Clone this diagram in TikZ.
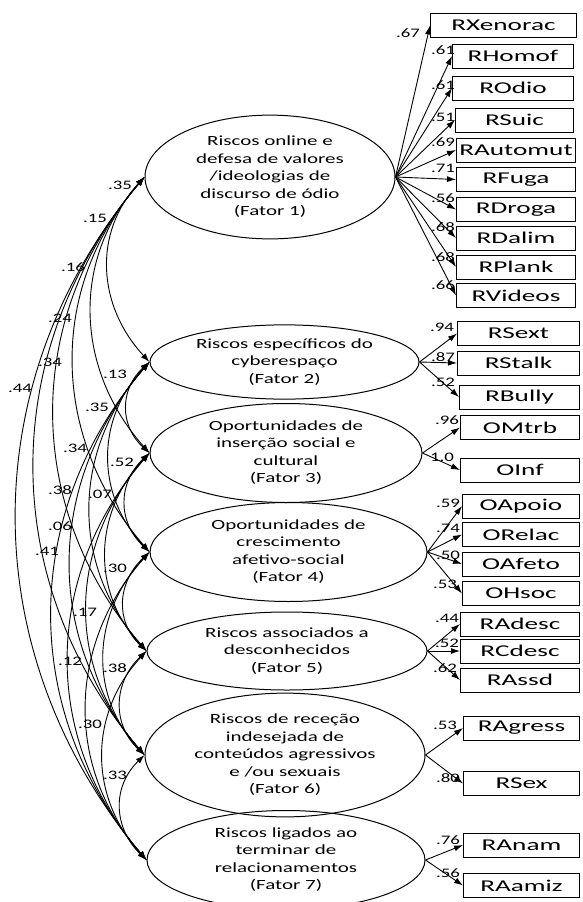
\documentclass[tikz,border=0pt]{standalone}
\usepackage{fontspec}
\setmainfont{Carlito}
\usetikzlibrary{arrows.meta,shapes.geometric}
\newcommand{\bxt}[1]{\scalebox{1.65}[1]{#1}}
\newcommand{\ftxt}[1]{\scalebox{1.5}[1]{\fontsize{14}{17.5}\selectfont\begin{tabular}{@{}c@{}}#1\end{tabular}}}
\newcommand{\lbt}[1]{\scalebox{1.45}[1]{#1}}
\begin{document}
\begin{tikzpicture}[x=1pt,y=-1pt,
  fac/.style={draw, ellipse, line width=1pt, inner sep=0pt},
  obs/.style={draw, rectangle, line width=1pt, inner sep=0pt, anchor=west, minimum height=24pt, font=\fontsize{16.5}{18}\selectfont},
  lab/.style={inner sep=0pt, font=\fontsize{13}{14}\selectfont},
  load/.style={line width=0.9pt, -{Latex[length=9pt,width=6pt]}},
  cov/.style={line width=0.9pt, {Latex[length=9pt,width=6pt]}-{Latex[length=9pt,width=6pt]}}]
\useasboundingbox (0,0) rectangle (582,902);

% factors
\node[fac, minimum width=250pt, minimum height=117pt] (F1) at (270,177) {\ftxt{Riscos online e\\defesa de valores\\/ideologias de\\discurso de ódio\\(Fator 1)}};
\node[fac, minimum width=269pt, minimum height=69pt] (F2) at (284.5,362) {\ftxt{Riscos específicos do\\cyberespaço\\(Fator 2)}};
\node[fac, minimum width=272pt, minimum height=77pt] (F3) at (286,453) {\ftxt{Oportunidades de\\inserção social e\\cultural\\(Fator 3)}};
\node[fac, minimum width=277pt, minimum height=89pt] (F4) at (288.5,552) {\ftxt{Oportunidades de\\crescimento\\afetivo-social\\(Fator 4)}};
\node[fac, minimum width=280pt, minimum height=78pt] (F5) at (287,651) {\ftxt{Riscos associados a\\desconhecidos\\(Fator 5)}};
\node[fac, minimum width=280pt, minimum height=112pt] (F6) at (285,755) {\ftxt{Riscos de receção\\indesejada de\\conteúdos agressivos\\e /ou sexuais\\(Fator 6)}};
\node[fac, minimum width=278pt, minimum height=84pt] (F7) at (286,860) {\ftxt{Riscos ligados ao\\terminar de\\relacionamentos\\(Fator 7)}};

% observed
\node[obs, minimum width=146pt] (RXenorac) at (430,25.5) {\bxt{RXenorac}};
\node[obs, minimum width=121pt] (RHomof) at (452,56) {\bxt{RHomof}};
\node[obs, minimum width=121pt] (ROdio) at (452,88) {\bxt{ROdio}};
\node[obs, minimum width=118pt] (RSuic) at (455,120) {\bxt{RSuic}};
\node[obs, minimum width=119pt] (RAutomut) at (456,150) {\bxt{RAutomut}};
\node[obs, minimum width=119pt] (RFuga) at (456,179.5) {\bxt{RFuga}};
\node[obs, minimum width=119pt] (RDroga) at (456,209.5) {\bxt{RDroga}};
\node[obs, minimum width=119pt] (RDalim) at (456,238) {\bxt{RDalim}};
\node[obs, minimum width=119pt] (RPlank) at (456,267) {\bxt{RPlank}};
\node[obs, minimum width=119pt] (RVideos) at (456,295.5) {\bxt{RVideos}};
\node[obs, minimum width=122pt] (RSext) at (457,333.5) {\bxt{RSext}};
\node[obs, minimum width=122pt] (RStalk) at (457,363) {\bxt{RStalk}};
\node[obs, minimum width=120pt] (RBully) at (459,397) {\bxt{RBully}};
\node[obs, minimum width=119pt] (OMtrb) at (460,427.5) {\bxt{OMtrb}};
\node[obs, minimum width=119pt] (OInf) at (460,470) {\bxt{OInf}};
\node[obs, minimum width=117pt] (OApoio) at (462,506) {\bxt{OApoio}};
\node[obs, minimum width=117pt] (ORelac) at (462,534.5) {\bxt{ORelac}};
\node[obs, minimum width=117pt] (OAfeto) at (462,564) {\bxt{OAfeto}};
\node[obs, minimum width=117pt] (OHsoc) at (462,593.5) {\bxt{OHsoc}};
\node[obs, minimum width=119pt] (RAdesc) at (460,624) {\bxt{RAdesc}};
\node[obs, minimum width=119pt] (RCdesc) at (460,651) {\bxt{RCdesc}};
\node[obs, minimum width=119pt] (RAssd) at (460,680) {\bxt{RAssd}};
\node[obs, minimum width=116pt] (RAgress) at (463,728) {\bxt{RAgress}};
\node[obs, minimum width=116pt] (RSex) at (463,783.5) {\bxt{RSex}};
\node[obs, minimum width=116pt] (RAnam) at (463,845) {\bxt{RAnam}};
\node[obs, minimum width=116pt] (RAamiz) at (463,885.5) {\bxt{RAamiz}};

% loadings
\foreach \t in {RXenorac,RHomof,ROdio,RSuic,RAutomut,RFuga,RDroga,RDalim,RPlank,RVideos}
  \draw[load] (F1.east) -- (\t.west);
\foreach \t in {RSext,RStalk,RBully} \draw[load] (F2.east) -- (\t.west);
\foreach \t in {OMtrb,OInf} \draw[load] (F3.east) -- (\t.west);
\foreach \t in {OApoio,ORelac,OAfeto,OHsoc} \draw[load] (F4.east) -- (\t.west);
\foreach \t in {RAdesc,RCdesc,RAssd} \draw[load] (F5.east) -- (\t.west);
\foreach \t in {RAgress,RSex} \draw[load] (F6.east) -- (\t.west);
\foreach \t in {RAnam,RAamiz} \draw[load] (F7.east) -- (\t.west);

% loading labels
\node[lab] (a1) at (408,33) {\lbt{.67}};
\node[lab] (a2) at (443,50) {\lbt{.61}};
\node[lab] (a3) at (443,85) {\lbt{.61}};
\node[lab] (a4) at (443,117) {\lbt{.51}};
\node[lab] (a5) at (443,142) {\lbt{.69}};
\node[lab] (a6) at (443,168) {\lbt{.71}};
\node[lab] (a7) at (443,198) {\lbt{.56}};
\node[lab] (a8) at (443,227) {\lbt{.68}};
\node[lab] (a9) at (443,257) {\lbt{.68}};
\node[lab] (a10) at (443,285) {\lbt{.66}};
\node[lab] (a11) at (442,327) {\lbt{.94}};
\node[lab] (a12) at (443,357) {\lbt{.87}};
\node[lab] (a13) at (443,382) {\lbt{.52}};
\node[lab] (a14) at (447,420) {\lbt{.96}};
\node[lab] (a15) at (442,457) {\lbt{1.0}};
\node[lab] (a16) at (448,503) {\lbt{.59}};
\node[lab] (a17) at (448,528) {\lbt{.74}};
\node[lab] (a18) at (448,555) {\lbt{.50}};
\node[lab] (a19) at (445,584) {\lbt{.53}};
\node[lab] (a20) at (447,618) {\lbt{.44}};
\node[lab] (a21) at (447,643) {\lbt{.52}};
\node[lab] (a22) at (445,668) {\lbt{.62}};
\node[lab] (a23) at (445,725) {\lbt{.53}};
\node[lab] (a24) at (448,778) {\lbt{.80}};
\node[lab] (a25) at (448,840) {\lbt{.76}};
\node[lab] (a26) at (448,873) {\lbt{.56}};

% covariances
\draw[cov] (F1.west) .. controls +(-52,56) and +(-52,-56) .. (F2.west);
\draw[cov] (F1.west) .. controls +(-74,83) and +(-74,-83) .. (F3.west);
\draw[cov] (F1.west) .. controls +(-98,113) and +(-98,-113) .. (F4.west);
\draw[cov] (F1.west) .. controls +(-122,142) and +(-122,-142) .. (F5.west);
\draw[cov] (F1.west) .. controls +(-147,173) and +(-147,-173) .. (F6.west);
\draw[cov] (F1.west) .. controls +(-172,205) and +(-172,-205) .. (F7.west);
\draw[cov] (F2.west) .. controls +(-30,27) and +(-30,-27) .. (F3.west);
\draw[cov] (F2.west) .. controls +(-54,57) and +(-54,-57) .. (F4.west);
\draw[cov] (F2.west) .. controls +(-77,87) and +(-77,-87) .. (F5.west);
\draw[cov] (F2.west) .. controls +(-102,118) and +(-102,-118) .. (F6.west);
\draw[cov] (F2.west) .. controls +(-128,149) and +(-128,-149) .. (F7.west);
\draw[cov] (F3.west) .. controls +(-32,30) and +(-32,-30) .. (F4.west);
\draw[cov] (F3.west) .. controls +(-56,59) and +(-56,-59) .. (F5.west);
\draw[cov] (F3.west) .. controls +(-80,91) and +(-80,-91) .. (F6.west);
\draw[cov] (F3.west) .. controls +(-106,122) and +(-106,-122) .. (F7.west);
\draw[cov] (F4.west) .. controls +(-32,30) and +(-32,-30) .. (F5.west);
\draw[cov] (F4.west) .. controls +(-57,61) and +(-57,-61) .. (F6.west);
\draw[cov] (F4.west) .. controls +(-82,92) and +(-82,-92) .. (F7.west);
\draw[cov] (F5.west) .. controls +(-33,31) and +(-33,-31) .. (F6.west);
\draw[cov] (F5.west) .. controls +(-58,63) and +(-58,-63) .. (F7.west);
\draw[cov] (F6.west) .. controls +(-33,32) and +(-33,-32) .. (F7.west);

% covariance labels
\node[lab] (c1) at (120,185) {\lbt{.35}};
\node[lab] (c2) at (95,218) {\lbt{.15}};
\node[lab] (c3) at (73,267) {\lbt{.16}};
\node[lab] (c4) at (60,318) {\lbt{.24}};
\node[lab] (c5) at (50,362) {\lbt{.34}};
\node[lab] (c6) at (20,388) {\lbt{.44}};
\node[lab] (c7) at (115,374) {\lbt{.13}};
\node[lab] (c8) at (97,407) {\lbt{.35}};
\node[lab] (c9) at (75,448) {\lbt{.34}};
\node[lab] (c10) at (122,462) {\lbt{.52}};
\node[lab] (c11) at (60,490) {\lbt{.38}};
\node[lab] (c12) at (100,494) {\lbt{.07}};
\node[lab] (c13) at (60,526) {\lbt{.06}};
\node[lab] (c14) at (47,551) {\lbt{.41}};
\node[lab] (c15) at (115,568) {\lbt{.30}};
\node[lab] (c16) at (85,612) {\lbt{.17}};
\node[lab] (c17) at (70,661) {\lbt{.12}};
\node[lab] (c18) at (115,668) {\lbt{.38}};
\node[lab] (c19) at (90,724) {\lbt{.30}};
\node[lab] (c20) at (115,775) {\lbt{.33}};
\end{tikzpicture}
\end{document}
